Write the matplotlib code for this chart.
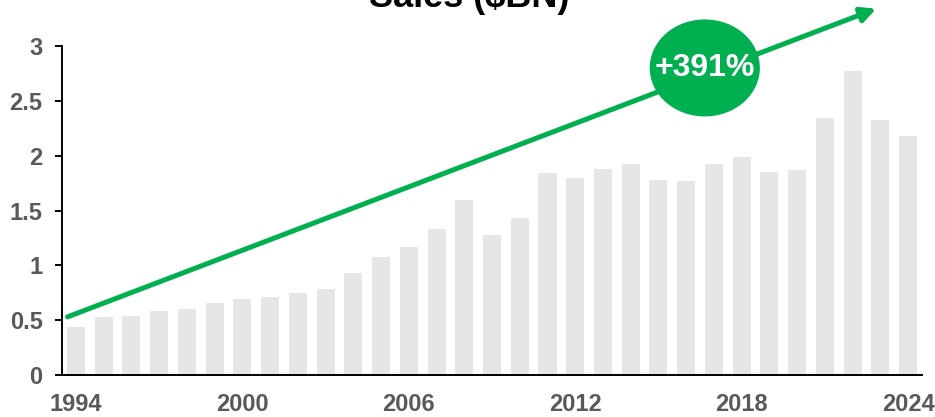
import matplotlib
matplotlib.use('Agg')
import matplotlib.pyplot as plt
from matplotlib.patches import Ellipse

plt.rcParams['font.family'] = ['Liberation Sans', 'DejaVu Sans']

years = list(range(1994, 2025))
sales = [0.44, 0.525, 0.54, 0.58, 0.605, 0.66, 0.69, 0.71, 0.745, 0.78,
         0.93, 1.075, 1.17, 1.33, 1.595, 1.275, 1.43, 1.84, 1.80, 1.88,
         1.925, 1.775, 1.765, 1.925, 1.99, 1.855, 1.87, 2.345, 2.77, 2.325,
         2.18]
tick_years = [1994, 2000, 2006, 2012, 2018, 2024]
growth_label = '+391%'

# trend arrow endpoints (x in bar index units, y in $BN)
arrow_start = (-0.3, 0.53)
arrow_end = (28.85, 3.34)
bubble_center = (22.67, 2.80)

green = '#00B050'
bar_grey = '#E6E6E6'
label_grey = '#595959'

fig = plt.figure(figsize=(9.35, 4.17), dpi=100)
ax = fig.add_axes([62 / 935, 42 / 417, 860 / 935, 329 / 417])

x = list(range(len(years)))
ax.bar(x, sales, width=0.65, color=bar_grey, zorder=1)

ax.set_xlim(-0.5, len(years) - 0.5)
ax.set_ylim(0, 3)
ax.set_yticks([0, 0.5, 1, 1.5, 2, 2.5, 3])
ax.set_yticklabels(['0', '0.5', '1', '1.5', '2', '2.5', '3'])
ax.set_xticks([years.index(y) for y in tick_years])
ax.set_xticklabels([str(y) for y in tick_years])

for side in ['top', 'right']:
    ax.spines[side].set_visible(False)
for side in ['left', 'bottom']:
    ax.spines[side].set_linewidth(1.4)
    ax.spines[side].set_color('black')

ax.tick_params(axis='y', direction='out', length=5, width=1.4, pad=9,
               labelsize=17, labelcolor=label_grey)
ax.tick_params(axis='x', length=0, pad=13, labelsize=17, labelcolor=label_grey)
for lbl in ax.get_xticklabels() + ax.get_yticklabels():
    lbl.set_fontweight('bold')

ax.annotate('', xy=arrow_end, xytext=arrow_start, annotation_clip=False,
            arrowprops=dict(arrowstyle='-|>', color=green, lw=3.6,
                            mutation_scale=22, shrinkA=0, shrinkB=0,
                            clip_on=False),
            zorder=3)

bubble = Ellipse(bubble_center, width=3.97, height=0.885, facecolor=green,
                 edgecolor='none', zorder=4, clip_on=False)
ax.add_patch(bubble)
ax.text(bubble_center[0], bubble_center[1], growth_label, color='white',
        fontsize=23, fontweight='bold', ha='center', va='center', zorder=5)

fig.text(469 / 935, 1 - 7 / 417, 'Sales ($BN)', fontsize=26,
         fontweight='bold', ha='center', va='baseline')

fig.savefig('out.png', dpi=100)
